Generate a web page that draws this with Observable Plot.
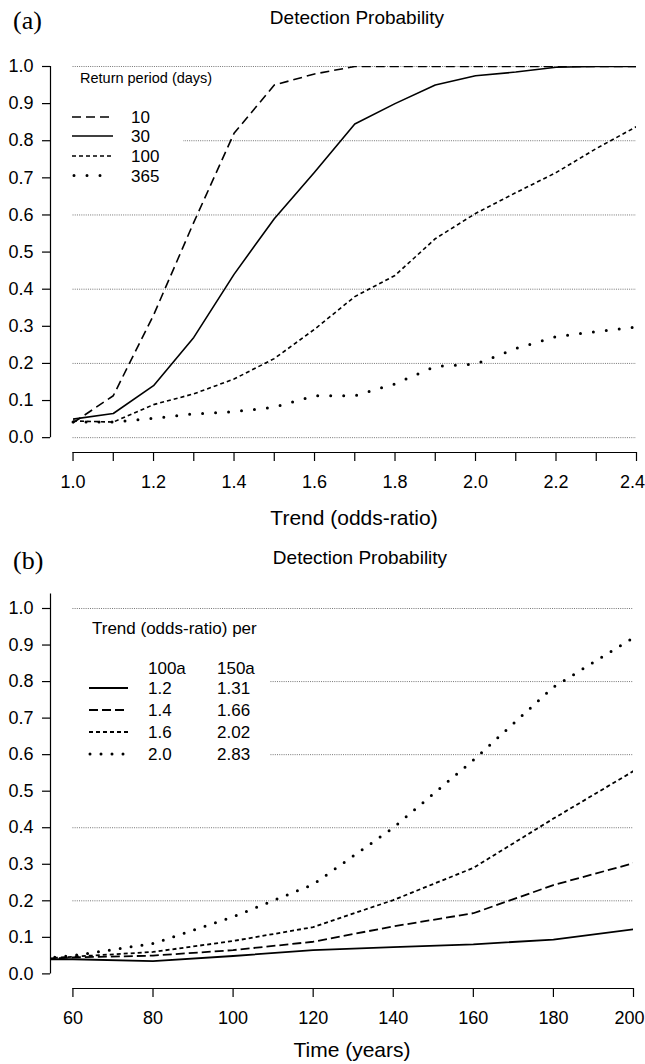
<!DOCTYPE html>
<html>
<head>
<meta charset="utf-8">
<script src="https://cdn.jsdelivr.net/npm/d3@7"></script>
<script src="https://cdn.jsdelivr.net/npm/@observablehq/plot@0.6"></script>
<style>
  body { margin: 0; background: #fff; font-family: "Liberation Sans", Arial, Helvetica, sans-serif; color: #000; }
  #page { position: relative; width: 645px; height: 1064px; overflow: hidden; background: #fff; }
  .abs { position: absolute; white-space: nowrap; line-height: 1.15; }
  .tag { font-family: "Liberation Serif", "DejaVu Serif", serif; font-size: 26px; }
  .ttl { font-size: 19px; transform: translateX(-50%); }
  .xlab { font-size: 21px; transform: translateX(-50%); }
  .legend { position: absolute; background: #fff; overflow: visible; }
  .legend svg { display: block; overflow: visible; }
</style>
</head>
<body>
<div id="page"></div>
<script>
// ---------- Panel (a) data ----------
const trendA = [1.0, 1.1, 1.2, 1.3, 1.4, 1.5, 1.6, 1.7, 1.8, 1.9, 2.0, 2.1, 2.2, 2.3, 2.4];
const period10  = [0.040, 0.113, 0.330, 0.580, 0.820, 0.950, 0.980, 1.000, 1.000, 1.000, 1.000, 1.000, 1.000, 1.000, 1.000];
const period30  = [0.050, 0.065, 0.140, 0.270, 0.440, 0.590, 0.715, 0.845, 0.900, 0.950, 0.975, 0.985, 0.998, 1.000, 1.000];
const period100 = [0.045, 0.042, 0.089, 0.118, 0.158, 0.213, 0.292, 0.380, 0.437, 0.536, 0.604, 0.660, 0.714, 0.779, 0.838];
const period365 = [0.042, 0.042, 0.052, 0.064, 0.070, 0.082, 0.113, 0.113, 0.145, 0.192, 0.198, 0.240, 0.272, 0.286, 0.298];
const periodNames = ["10", "30", "100", "365"];
const xTicksA = [1.0, 1.1, 1.2, 1.3, 1.4, 1.5, 1.6, 1.7, 1.8, 1.9, 2.0, 2.1, 2.2, 2.3, 2.4];
const xLabelsA = ["1.0", "", "1.2", "", "1.4", "", "1.6", "", "1.8", "", "2.0", "", "2.2", "", "2.4"];
const yTicks = [0.0, 0.1, 0.2, 0.3, 0.4, 0.5, 0.6, 0.7, 0.8, 0.9, 1.0];
const gridA = [0.0, 0.2, 0.4, 0.6, 0.8, 1.0];

// ---------- Panel (b) data ----------
const timeB = [50, 60, 80, 100, 120, 140, 160, 180, 200];
const trend12 = [0.040, 0.040, 0.035, 0.049, 0.065, 0.073, 0.081, 0.094, 0.122];
const trend14 = [0.040, 0.045, 0.050, 0.065, 0.088, 0.130, 0.166, 0.243, 0.303];
const trend16 = [0.040, 0.047, 0.060, 0.090, 0.128, 0.202, 0.290, 0.425, 0.555];
const trend20 = [0.040, 0.050, 0.083, 0.156, 0.245, 0.400, 0.585, 0.785, 0.920];
const trendPer100 = ["1.2", "1.4", "1.6", "2.0"];
const trendPer150 = ["1.31", "1.66", "2.02", "2.83"];
const xTicksB = [60, 80, 100, 120, 140, 160, 180, 200];
const gridB = [0.2, 0.4, 0.6, 0.8, 1.0];

// ---------- styles ----------
const dashA = ["9,5", null, "4,3", "0,13"];
const dashB = [null, "9,4", "4,3", "0,11"];

const page = document.getElementById("page");
const FONT = '"Liberation Sans", Arial, Helvetica, sans-serif';

function tidy(xs, seriesArrays, names) {
  const out = [];
  seriesArrays.forEach((arr, k) => arr.forEach((v, i) => out.push({x: xs[i], y: v, s: names[k], k})));
  return out;
}

function seriesMarks(data, names, dashes, width) {
  return names.map((n, k) => {
    const dotted = dashes[k] && dashes[k].startsWith("0,");
    return Plot.line(data.filter(d => d.s === n), {
      x: "x", y: "y", stroke: "black",
      strokeWidth: dotted ? 3 : width,
      strokeDasharray: dashes[k] || undefined,
      strokeLinecap: dotted ? "round" : "butt",
      strokeLinejoin: "round", clip: true
    });
  });
}

function addAbs(text, cls, left, top) {
  const d = document.createElement("div");
  d.className = "abs " + cls;
  d.style.left = left + "px";
  d.style.top = top + "px";
  d.textContent = text;
  page.appendChild(d);
  return d;
}

function axisMarks(xTicks, xLabels, yAxisTop, xLo, yLo, xMin, xMax) {
  const last = xTicks.length - 1;
  return [
    Plot.ruleX([xLo], {y1: 0, y2: yAxisTop, stroke: "black", strokeWidth: 1.2}),
    Plot.ruleY([yLo], {x1: xMin, x2: xMax, stroke: "black", strokeWidth: 1.2}),
    Plot.axisY({ticks: yTicks, tickSize: 8, tickPadding: 9, tickFormat: d3.format(".1f"), label: null, fontSize: 18, strokeWidth: 1.2}),
    Plot.axisX({ticks: xTicks, tickSize: 9, tickPadding: 14, tickFormat: (d, i) => i === last ? "" : xLabels[i], label: null, fontSize: 18, strokeWidth: 1.2}),
    Plot.axisX({ticks: [xTicks[last]], tickSize: 0, tickPadding: 23, dx: -4, tickFormat: () => xLabels[last], label: null, fontSize: 18})
  ];
}

// ================= Panel (a) =================
{
  const data = tidy(trendA, [period10, period30, period100, period365], periodNames);
  const xMin = d3.min(trendA), xMax = d3.max(trendA);
  const xLo = xMin - 0.04 * (xMax - xMin);
  const yLo = -0.04;
  const chart = Plot.plot({
    width: 645, height: 535,
    marginTop: 66, marginBottom: 535 - 452, marginLeft: 50, marginRight: 9,
    style: {fontFamily: FONT, fontSize: "18px", background: "transparent", color: "black"},
    x: {domain: [xLo, xMax]},
    y: {domain: [yLo, 1]},
    marks: [
      Plot.ruleY(gridA, {x1: xMin, x2: xMax, stroke: "#666", strokeWidth: 0.9, strokeDasharray: "1,1.2"}),
      ...seriesMarks(data, periodNames, dashA, 1.6),
      ...axisMarks(xTicksA, xLabelsA, 1, xLo, yLo, xMin, xMax)
    ]
  });
  chart.style.position = "absolute";
  chart.style.left = "0px";
  chart.style.top = "0px";
  page.appendChild(chart);

  addAbs("(a)", "tag", 13, 6);
  addAbs("Detection Probability", "ttl", 357, 7);
  addAbs("Trend (odds-ratio)", "xlab", 354, 506);

  // legend (a)
  const box = document.createElement("div");
  box.className = "legend";
  Object.assign(box.style, {left: "66px", top: "70px", width: "117px", height: "124px"});
  const svg = d3.create("svg").attr("width", 117).attr("height", 124)
    .style("font-family", FONT);
  svg.append("text").attr("x", 14).attr("y", 13).attr("font-size", 14.5).text("Return period (days)");
  const rowsY = [47, 66, 86, 105.5];
  periodNames.forEach((n, k) => {
    const dotted = k === 3;
    svg.append("line").attr("x1", dotted ? 8 : 6).attr("x2", 47).attr("y1", rowsY[k]).attr("y2", rowsY[k])
      .attr("stroke", "black").attr("stroke-width", dotted ? 3 : 1.6)
      .attr("stroke-dasharray", dashA[k] ? (dotted ? "0,13" : dashA[k]) : null)
      .attr("stroke-linecap", dotted ? "round" : "butt");
    svg.append("text").attr("x", 65).attr("y", rowsY[k] + 6).attr("font-size", 17).text(n);
  });
  box.appendChild(svg.node());
  page.appendChild(box);
}

// ================= Panel (b) =================
{
  const namesB = trendPer100;
  const data = tidy(timeB, [trend12, trend14, trend16, trend20], namesB);
  const xMin = d3.min(xTicksB), xMax = d3.max(xTicksB);
  const xLo = xMin - 0.04 * (xMax - xMin);
  const yLo = -0.04;
  const yAxisTop = 1.04;
  const top = 530;
  const chart = Plot.plot({
    width: 645, height: 534,
    marginTop: 78, marginBottom: 534 - 458, marginLeft: 50, marginRight: 12,
    style: {fontFamily: FONT, fontSize: "18px", background: "transparent", color: "black"},
    x: {domain: [xLo, xMax]},
    y: {domain: [yLo, 1]},
    marks: [
      Plot.ruleY(gridB, {x1: xMin, x2: xMax, stroke: "#666", strokeWidth: 0.9, strokeDasharray: "1,1.2"}),
      ...seriesMarks(data, namesB, dashB, 1.8),
      ...axisMarks(xTicksB, xTicksB.map(String), yAxisTop, xLo, yLo, xMin, xMax)
    ]
  });
  chart.style.position = "absolute";
  chart.style.left = "0px";
  chart.style.top = top + "px";
  page.appendChild(chart);

  addAbs("(b)", "tag", 13, 546);
  addAbs("Detection Probability", "ttl", 360, 547);
  addAbs("Time (years)", "xlab", 352, 1038);

  // legend (b)
  const box = document.createElement("div");
  box.className = "legend";
  Object.assign(box.style, {left: "70px", top: "614px", width: "200px", height: "160px"});
  const svg = d3.create("svg").attr("width", 200).attr("height", 160)
    .style("font-family", FONT);
  svg.append("text").attr("x", 22).attr("y", 20).attr("font-size", 17).text("Trend (odds-ratio) per");
  svg.append("text").attr("x", 78).attr("y", 60).attr("font-size", 17).text("100a");
  svg.append("text").attr("x", 147).attr("y", 60).attr("font-size", 17).text("150a");
  const rowsY = [74, 96, 118, 140];
  namesB.forEach((n, k) => {
    const dotted = k === 3;
    svg.append("line").attr("x1", dotted ? 20 : 19).attr("x2", 58).attr("y1", rowsY[k]).attr("y2", rowsY[k])
      .attr("stroke", "black").attr("stroke-width", dotted ? 3 : (k === 0 ? 2.2 : 1.8))
      .attr("stroke-dasharray", dashB[k] ? (dotted ? "0,11" : dashB[k]) : null)
      .attr("stroke-linecap", dotted ? "round" : "butt");
    svg.append("text").attr("x", 78).attr("y", rowsY[k] + 6).attr("font-size", 17).text(trendPer100[k]);
    svg.append("text").attr("x", 147).attr("y", rowsY[k] + 6).attr("font-size", 17).text(trendPer150[k]);
  });
  box.appendChild(svg.node());
  page.appendChild(box);
}
</script>
</body>
</html>
